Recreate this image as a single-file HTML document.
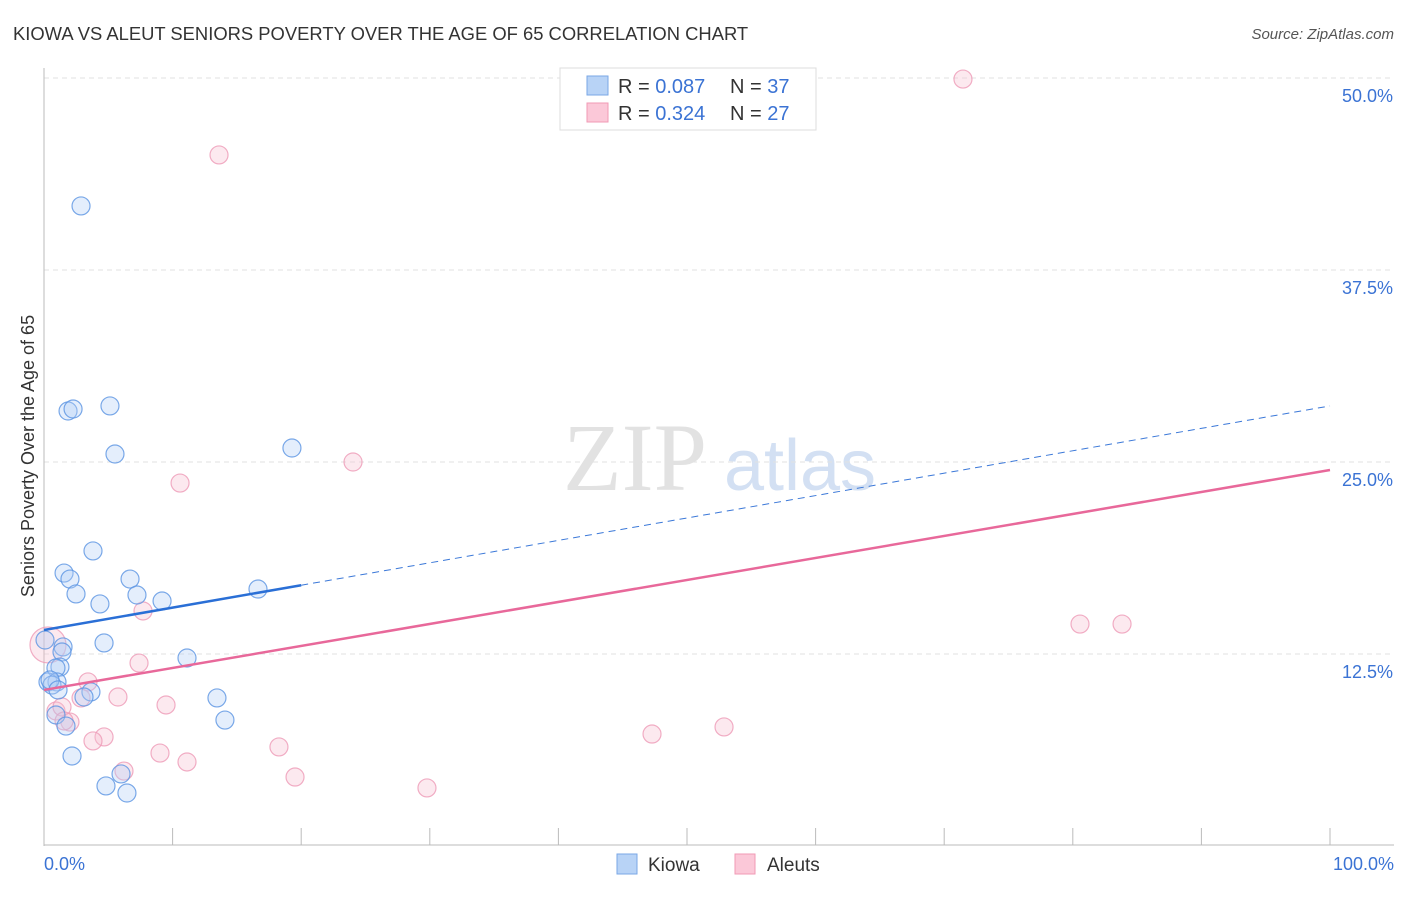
<!DOCTYPE html>
<html><head><meta charset="utf-8"><style>
body{margin:0;background:#fff;font-family:"Liberation Sans",sans-serif}
svg text{font-family:"Liberation Sans",sans-serif}
</style></head><body>
<svg id="c" width="1406" height="892">
<text x="13" y="40" font-size="18.4" fill="#333">KIOWA VS ALEUT SENIORS POVERTY OVER THE AGE OF 65 CORRELATION CHART</text>
<text x="1394" y="39" font-size="15" fill="#555" font-style="italic" text-anchor="end">Source: ZipAtlas.com</text>
<text x="34" y="456" font-size="18" fill="#333" text-anchor="middle" transform="rotate(-90 34 456)">Seniors Poverty Over the Age of 65</text>
<g><text x="635" y="490" font-size="96" fill="#e2e2e2" text-anchor="middle" style="font-family:'Liberation Serif',serif">ZIP</text><text x="800" y="490" font-size="72" fill="#d3e0f3" text-anchor="middle">atlas</text></g>
<g id="grid"></g><g id="axes"></g><g id="marks"></g>
<g>
<rect x="560" y="68" width="256" height="62" fill="#fff" stroke="#ddd"/>
<rect x="587" y="76" width="21" height="19" fill="#b8d3f6" stroke="#7aa7e6"/>
<rect x="587" y="103" width="21" height="19" fill="#fbc8d8" stroke="#f09ab5"/>
<text x="618" y="93" font-size="20" fill="#333">R = <tspan fill="#3b73d4">0.087</tspan></text>
<text x="730" y="93" font-size="20" fill="#333">N = <tspan fill="#3b73d4">37</tspan></text>
<text x="618" y="120" font-size="20" fill="#333">R = <tspan fill="#3b73d4"> 0.324</tspan></text>
<text x="730" y="120" font-size="20" fill="#333">N = <tspan fill="#3b73d4">27</tspan></text>
</g>
<g>
<rect x="617" y="854" width="20" height="20" fill="#b8d3f6" stroke="#7aa7e6"/>
<text x="648" y="871" font-size="19" fill="#333">Kiowa</text>
<rect x="735" y="854" width="20" height="20" fill="#fbc8d8" stroke="#f09ab5"/>
<text x="767" y="871" font-size="19" fill="#333">Aleuts</text>
</g>
</svg>
<script>
const yTicks=[12.5,25,37.5,50];
const yTickLabels=["12.5%","25.0%","37.5%","50.0%"];
const kiowaX=[2.88,1.87,2.26,5.13,5.52,19.28,3.81,1.56,2.02,6.69,2.49,7.23,9.18,4.35,16.64,4.67,1.48,1.40,1.24,0.93,0.31,1.01,0.62,11.12,3.65,3.11,13.45,0.93,14.07,1.71,2.18,5.99,4.82,6.45,0.47,0.08,1.09];
const kiowaY=[41.67,28.32,28.45,28.65,25.52,25.91,19.21,17.77,17.38,17.38,16.41,16.34,15.95,15.76,16.73,13.22,12.96,12.63,11.65,11.59,10.68,10.68,10.48,12.24,10.03,9.70,9.64,8.53,8.20,7.81,5.86,4.69,3.91,3.45,10.81,13.41,10.16];
const aleutX=[71.46,13.61,24.03,10.58,7.70,7.39,3.42,5.75,2.88,9.49,0.93,1.40,2.02,1.56,4.67,3.81,9.02,11.12,18.27,19.52,29.78,6.22,47.28,52.88,80.56,83.83,0.31];
const aleutY=[49.93,44.99,25.0,23.63,15.30,11.91,10.68,9.70,9.64,9.18,8.79,9.05,8.07,8.14,7.10,6.84,6.05,5.47,6.45,4.49,3.78,4.88,7.29,7.75,14.45,14.45,13.09];
const kiowaTrend=[14.06,28.65];
const aleutTrend=[10.16,24.48];
const NS="http://www.w3.org/2000/svg";
const sx=v=>44+v*12.86, sy=v=>846-v*15.36;
function mk(p,t,a){const e=document.createElementNS(NS,t);for(const k in a)e.setAttribute(k,a[k]);document.getElementById(p).appendChild(e);return e;}
yTicks.forEach((t,i)=>{
 const g=mk('grid','line',{x1:44,x2:1394,y1:sy(t),y2:sy(t),stroke:'#e2e2e2','stroke-dasharray':'5,4'});
 
 
 const l=mk('grid','text',{x:1393,y:sy(t)+24,'font-size':18,fill:'#3b73d4','text-anchor':'end'});
 l.textContent=yTickLabels[i];
 
 
});
const ax=mk('axes','line',{x1:44,x2:44,y1:68,y2:846,stroke:'#bbb'});


const bx=mk('axes','line',{x1:44,x2:1394,y1:845,y2:845,stroke:'#bbb'});


for(let i=0;i<=10;i++){const t=mk('axes','line',{x1:sx(i*10),x2:sx(i*10),y1:828,y2:845,stroke:'#bbb'});
 
 }
[["0.0%",44,'start'],["100.0%",1394,'end']].forEach(d=>{const t=mk('axes','text',{x:d[1],y:870,'font-size':18,fill:'#3b73d4','text-anchor':d[2]});t.textContent=d[0];
 
 });
function pts(xs,ys,fill,stroke,name){xs.forEach((x,i)=>{const r=(name==='aleut-point'&&i===xs.length-1)?18:9;
 const c=mk('marks','circle',{cx:sx(x),cy:sy(ys[i]),r:r,fill:fill,'fill-opacity':0.35,stroke:stroke,'stroke-opacity':0.8,'stroke-width':1.2});
 
 });}
pts(aleutX,aleutY,'#f7bfd1','#ee9ab7','aleut-point');
pts(kiowaX,kiowaY,'#b3cff5','#5a93e2','kiowa-point');
const lerp=(t,x)=>t[0]+(t[1]-t[0])*x/100;
let l1=mk('marks','line',{x1:sx(20),y1:sy(lerp(kiowaTrend,20)),x2:sx(100),y2:sy(lerp(kiowaTrend,100)),stroke:'#3b78d8','stroke-width':1,'stroke-dasharray':'7,5'});


let l2=mk('marks','line',{x1:sx(0),y1:sy(lerp(kiowaTrend,0)),x2:sx(20),y2:sy(lerp(kiowaTrend,20)),stroke:'#2a6fd6','stroke-width':2.5});


let l3=mk('marks','line',{x1:sx(0),y1:sy(lerp(aleutTrend,0)),x2:sx(100),y2:sy(lerp(aleutTrend,100)),stroke:'#e8689a','stroke-width':2.5});


</script>
</body></html>
